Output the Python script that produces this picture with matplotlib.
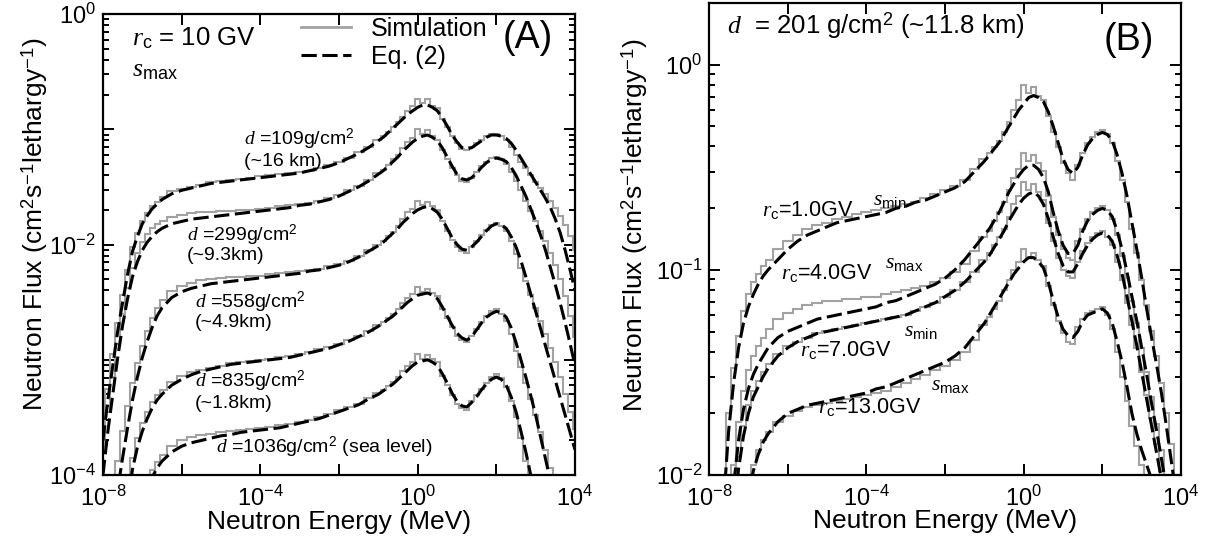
import numpy as np
import matplotlib.pyplot as plt
from matplotlib.lines import Line2D
from matplotlib.ticker import FixedLocator, FuncFormatter, LogLocator, NullLocator

plt.rcParams['font.family'] = ['Liberation Sans', 'DejaVu Sans']
plt.rcParams['mathtext.fontset'] = 'custom'
plt.rcParams['mathtext.rm'] = 'Liberation Sans'
plt.rcParams['mathtext.it'] = 'Liberation Serif:italic'
plt.rcParams['mathtext.sf'] = 'Liberation Sans'
plt.rcParams['lines.scale_dashes'] = False

# log10 of neutron energy (MeV): fine bins on the thermal rise and above 0.1 MeV
log_e = ([-8.0, -7.875, -7.75, -7.625, -7.5, -7.375, -7.25, -7.125, -7.0, -6.875,
          -6.75, -6.625, -6.5]
         + [-6.25, -6.0, -5.75, -5.5, -5.25, -5.0, -4.75, -4.5, -4.25, -4.0, -3.75,
            -3.5, -3.25, -3.0, -2.75, -2.5, -2.25, -2.0, -1.75, -1.5, -1.25, -1.0]
         + [-0.875, -0.75, -0.625, -0.5, -0.375, -0.25, -0.125, 0.0, 0.125, 0.25,
            0.375, 0.5, 0.625, 0.75, 0.875, 1.0, 1.125, 1.25, 1.375, 1.5,
            1.625, 1.75, 1.875, 2.0, 2.125, 2.25, 2.375, 2.5, 2.625, 2.75,
            2.875, 3.0, 3.125, 3.25, 3.375, 3.5, 3.625, 3.75, 3.875, 4.0])

# ---- panel A : rc = 10 GV, s_max, various atmospheric depths (log10 flux)
a_eq_109 = ([-3.70, -3.35, -3.05, -2.75, -2.50, -2.26, -2.06, -1.93, -1.82, -1.75, -1.69, -1.65, -1.61]
            + [-1.56, -1.53, -1.51, -1.49, -1.47, -1.46, -1.45, -1.44, -1.43, -1.42, -1.41,
               -1.40, -1.39, -1.38, -1.36, -1.34, -1.32, -1.29, -1.25, -1.21, -1.16, -1.10]
            + [-1.07, -1.03, -0.99, -0.95, -0.91, -0.87, -0.84, -0.81, -0.79, -0.79,
               -0.81, -0.84, -0.90, -0.97, -1.05, -1.11, -1.16, -1.17, -1.16, -1.13,
               -1.10, -1.07, -1.05, -1.05, -1.06, -1.08, -1.12, -1.18, -1.25, -1.32,
               -1.39, -1.46, -1.53, -1.60, -1.68, -1.78, -1.90, -2.05, -2.22, -2.40])
a_sim_109 = ([-3.55, -3.25, -2.95, -2.68, -2.44, -2.22, -2.02, -1.90, -1.80, -1.73, -1.67, -1.63, -1.59]
             + [-1.54, -1.52, -1.50, -1.48, -1.46, -1.45, -1.44, -1.43, -1.42, -1.41, -1.40,
                -1.39, -1.38, -1.37, -1.36, -1.34, -1.31, -1.28, -1.25, -1.20, -1.15, -1.09]
             + [-1.06, -1.02, -0.98, -0.94, -0.89, -0.84, -0.80, -0.74, -0.77, -0.74,
                -0.80, -0.82, -0.91, -0.98, -1.06, -1.12, -1.17, -1.18, -1.15, -1.12,
                -1.09, -1.06, -1.04, -1.04, -1.06, -1.09, -1.15, -1.22, -1.28, -1.34,
                -1.40, -1.46, -1.51, -1.56, -1.62, -1.68, -1.75, -1.83, -1.93, -2.05])

a_eq_299 = ([-4.00, -3.62, -3.30, -2.98, -2.70, -2.47, -2.28, -2.15, -2.05, -1.98, -1.93, -1.89, -1.86]
            + [-1.82, -1.80, -1.78, -1.77, -1.76, -1.75, -1.74, -1.73, -1.72, -1.71, -1.70,
               -1.69, -1.68, -1.66, -1.65, -1.63, -1.61, -1.58, -1.54, -1.50, -1.45, -1.39]
            + [-1.36, -1.32, -1.28, -1.24, -1.19, -1.15, -1.11, -1.08, -1.06, -1.05,
               -1.07, -1.10, -1.16, -1.24, -1.32, -1.39, -1.43, -1.44, -1.42, -1.38,
               -1.33, -1.29, -1.26, -1.25, -1.26, -1.28, -1.33, -1.40, -1.49, -1.58,
               -1.69, -1.80, -1.92, -2.05, -2.20, -2.35, -2.51, -2.68, -2.86, -3.05])
a_sim_299 = ([-3.80, -3.45, -3.15, -2.86, -2.60, -2.38, -2.20, -2.07, -1.98, -1.91, -1.86, -1.82, -1.80]
             + [-1.76, -1.74, -1.73, -1.72, -1.72, -1.71, -1.71, -1.70, -1.70, -1.69, -1.68,
                -1.67, -1.66, -1.65, -1.64, -1.62, -1.60, -1.57, -1.53, -1.49, -1.44, -1.38]
             + [-1.35, -1.31, -1.26, -1.22, -1.16, -1.11, -1.08, -1.00, -1.04, -1.01,
                -1.06, -1.09, -1.18, -1.26, -1.34, -1.40, -1.45, -1.46, -1.42, -1.37,
                -1.32, -1.28, -1.25, -1.24, -1.26, -1.30, -1.37, -1.45, -1.53, -1.62,
                -1.71, -1.80, -1.88, -1.97, -2.07, -2.18, -2.30, -2.45, -2.62, -2.80])

a_eq_558 = ([-5.00, -4.70, -4.40, -4.12, -3.85, -3.59, -3.35, -3.15, -2.98, -2.84, -2.72, -2.62, -2.55]
            + [-2.46, -2.41, -2.38, -2.36, -2.34, -2.33, -2.32, -2.31, -2.30, -2.29, -2.28,
               -2.27, -2.26, -2.25, -2.23, -2.22, -2.20, -2.18, -2.15, -2.11, -2.06, -2.01]
            + [-1.98, -1.94, -1.90, -1.86, -1.81, -1.77, -1.73, -1.70, -1.68, -1.67,
               -1.69, -1.72, -1.78, -1.86, -1.94, -2.00, -2.04, -2.05, -2.02, -1.98,
               -1.93, -1.88, -1.84, -1.82, -1.83, -1.86, -1.93, -2.02, -2.14, -2.28,
               -2.43, -2.58, -2.73, -2.88, -3.03, -3.18, -3.33, -3.48, -3.63, -3.78])
a_sim_558 = ([-4.75, -4.45, -4.15, -3.88, -3.62, -3.40, -3.20, -3.03, -2.88, -2.75, -2.64, -2.55, -2.48]
             + [-2.40, -2.36, -2.33, -2.31, -2.30, -2.29, -2.28, -2.28, -2.27, -2.27, -2.26,
                -2.25, -2.24, -2.23, -2.22, -2.21, -2.19, -2.17, -2.14, -2.10, -2.05, -2.00]
             + [-1.97, -1.93, -1.89, -1.84, -1.78, -1.72, -1.69, -1.62, -1.66, -1.63,
                -1.67, -1.70, -1.80, -1.88, -1.96, -2.02, -2.06, -2.07, -2.02, -1.97,
                -1.92, -1.87, -1.83, -1.81, -1.84, -1.88, -1.97, -2.08, -2.20, -2.32,
                -2.44, -2.55, -2.66, -2.78, -2.90, -3.02, -3.15, -3.30, -3.45, -3.60])

a_eq_835 = ([-6.00, -5.65, -5.30, -4.95, -4.60, -4.25, -3.95, -3.76, -3.62, -3.51, -3.42, -3.35, -3.30]
            + [-3.22, -3.17, -3.13, -3.10, -3.08, -3.06, -3.04, -3.03, -3.02, -3.01, -3.00,
               -2.99, -2.98, -2.96, -2.94, -2.92, -2.90, -2.87, -2.84, -2.80, -2.76, -2.71]
            + [-2.68, -2.65, -2.62, -2.58, -2.54, -2.50, -2.47, -2.44, -2.43, -2.42,
               -2.44, -2.47, -2.54, -2.62, -2.70, -2.77, -2.81, -2.83, -2.80, -2.74,
               -2.68, -2.63, -2.60, -2.58, -2.59, -2.63, -2.72, -2.85, -3.00, -3.15,
               -3.31, -3.48, -3.67, -3.86, -4.05, -4.25, -4.42, -4.60, -4.80, -5.00])
a_sim_835 = ([-5.50, -5.20, -4.90, -4.60, -4.30, -4.05, -3.85, -3.68, -3.55, -3.45, -3.37, -3.31, -3.26]
             + [-3.19, -3.14, -3.11, -3.09, -3.07, -3.05, -3.03, -3.02, -3.01, -3.00, -2.99,
                -2.98, -2.97, -2.95, -2.93, -2.91, -2.89, -2.86, -2.83, -2.79, -2.75, -2.70]
             + [-2.67, -2.64, -2.60, -2.56, -2.51, -2.46, -2.43, -2.37, -2.41, -2.39,
                -2.42, -2.45, -2.56, -2.64, -2.72, -2.79, -2.83, -2.85, -2.79, -2.73,
                -2.67, -2.62, -2.58, -2.56, -2.60, -2.66, -2.78, -2.92, -3.06, -3.20,
                -3.34, -3.48, -3.63, -3.78, -3.94, -4.10, -4.25, -4.40, -4.60, -4.80])

a_eq_1036 = ([-6.50, -6.20, -5.90, -5.55, -5.20, -4.88, -4.60, -4.40, -4.25, -4.12, -4.02, -3.94, -3.88]
             + [-3.80, -3.75, -3.72, -3.70, -3.68, -3.66, -3.65, -3.63, -3.62, -3.61, -3.60,
                -3.59, -3.57, -3.55, -3.53, -3.51, -3.48, -3.45, -3.42, -3.39, -3.34, -3.30]
             + [-3.27, -3.24, -3.21, -3.17, -3.13, -3.09, -3.05, -3.02, -3.01, -3.00,
                -3.02, -3.05, -3.12, -3.20, -3.29, -3.36, -3.40, -3.41, -3.37, -3.32,
                -3.26, -3.21, -3.17, -3.15, -3.17, -3.22, -3.32, -3.45, -3.62, -3.80,
                -4.00, -4.20, -4.40, -4.60, -4.80, -5.00, -5.20, -5.40, -5.60, -5.80])
a_sim_1036 = ([-6.00, -5.75, -5.50, -5.20, -4.90, -4.65, -4.45, -4.28, -4.15, -4.05, -3.96, -3.89, -3.83]
              + [-3.75, -3.70, -3.67, -3.65, -3.64, -3.63, -3.62, -3.61, -3.60, -3.59, -3.58,
                 -3.57, -3.56, -3.54, -3.52, -3.50, -3.47, -3.44, -3.41, -3.38, -3.33, -3.29]
              + [-3.26, -3.23, -3.19, -3.15, -3.10, -3.05, -3.02, -2.95, -2.99, -2.96,
                 -2.99, -3.02, -3.14, -3.22, -3.31, -3.38, -3.42, -3.44, -3.36, -3.31,
                 -3.25, -3.20, -3.15, -3.12, -3.16, -3.24, -3.36, -3.50, -3.68, -3.88,
                 -4.08, -4.30, -4.50, -4.70, -4.90, -5.10, -5.30, -5.50, -5.70, -5.90])

# ---- panel B : d = 201 g/cm2, various cut-off rigidities (log10 flux)
b_eq_1 = ([-3.40, -2.92, -2.50, -2.12, -1.78, -1.55, -1.38, -1.26, -1.18, -1.12, -1.07, -1.03, -1.00]
          + [-0.95, -0.90, -0.86, -0.83, -0.81, -0.79, -0.77, -0.76, -0.75, -0.74, -0.73,
             -0.72, -0.70, -0.69, -0.67, -0.66, -0.64, -0.62, -0.60, -0.57, -0.52, -0.47]
          + [-0.44, -0.41, -0.38, -0.34, -0.30, -0.26, -0.22, -0.19, -0.16, -0.15,
             -0.16, -0.18, -0.23, -0.30, -0.38, -0.46, -0.51, -0.53, -0.50, -0.44,
             -0.39, -0.36, -0.34, -0.33, -0.34, -0.37, -0.44, -0.53, -0.64, -0.77,
             -0.90, -1.04, -1.19, -1.33, -1.46, -1.60, -1.76, -1.93, -2.10, -2.30])
b_sim_1 = ([-3.20, -2.75, -2.38, -2.02, -1.70, -1.48, -1.32, -1.20, -1.12, -1.06, -1.02, -0.98, -0.95]
           + [-0.90, -0.86, -0.83, -0.80, -0.78, -0.77, -0.75, -0.74, -0.73, -0.72, -0.71,
              -0.70, -0.69, -0.68, -0.67, -0.65, -0.63, -0.61, -0.59, -0.56, -0.51, -0.46]
           + [-0.43, -0.40, -0.37, -0.33, -0.28, -0.22, -0.17, -0.10, -0.14, -0.11,
              -0.15, -0.17, -0.25, -0.33, -0.40, -0.48, -0.53, -0.56, -0.49, -0.43,
              -0.38, -0.35, -0.33, -0.32, -0.34, -0.38, -0.47, -0.56, -0.67, -0.80,
              -0.92, -1.05, -1.17, -1.30, -1.42, -1.55, -1.70, -1.85, -2.02, -2.20])

b_eq_4 = ([-4.20, -3.68, -3.20, -2.75, -2.35, -2.05, -1.83, -1.68, -1.58, -1.51, -1.46, -1.42, -1.38]
          + [-1.33, -1.30, -1.28, -1.26, -1.24, -1.23, -1.22, -1.21, -1.20, -1.19, -1.18,
             -1.16, -1.15, -1.13, -1.11, -1.09, -1.07, -1.04, -1.00, -0.95, -0.89, -0.83]
          + [-0.80, -0.76, -0.72, -0.67, -0.62, -0.58, -0.54, -0.51, -0.49, -0.49,
             -0.51, -0.55, -0.62, -0.72, -0.81, -0.88, -0.92, -0.92, -0.88, -0.81,
             -0.76, -0.73, -0.71, -0.70, -0.71, -0.74, -0.81, -0.90, -1.01, -1.13,
             -1.25, -1.38, -1.51, -1.65, -1.78, -1.92, -2.06, -2.20, -2.35, -2.50])
b_sim_4 = ([-4.00, -3.50, -3.05, -2.62, -2.24, -1.95, -1.74, -1.59, -1.49, -1.42, -1.37, -1.33, -1.29]
           + [-1.24, -1.21, -1.19, -1.17, -1.16, -1.15, -1.15, -1.14, -1.14, -1.13, -1.13,
              -1.12, -1.11, -1.10, -1.09, -1.08, -1.06, -1.04, -1.01, -0.97, -0.91, -0.84]
           + [-0.81, -0.76, -0.72, -0.67, -0.61, -0.55, -0.51, -0.43, -0.47, -0.44,
              -0.48, -0.52, -0.64, -0.74, -0.83, -0.90, -0.94, -0.95, -0.86, -0.80,
              -0.75, -0.72, -0.70, -0.69, -0.71, -0.75, -0.83, -0.93, -1.04, -1.15,
              -1.26, -1.38, -1.50, -1.62, -1.75, -1.88, -2.01, -2.15, -2.30, -2.45])

b_eq_7 = ([-4.50, -3.92, -3.40, -2.93, -2.50, -2.20, -1.97, -1.81, -1.70, -1.62, -1.57, -1.52, -1.48]
          + [-1.42, -1.38, -1.35, -1.33, -1.31, -1.30, -1.29, -1.28, -1.27, -1.26, -1.25,
             -1.24, -1.23, -1.22, -1.20, -1.18, -1.16, -1.13, -1.10, -1.06, -1.01, -0.96]
          + [-0.93, -0.89, -0.85, -0.81, -0.76, -0.72, -0.68, -0.65, -0.63, -0.62,
             -0.64, -0.68, -0.75, -0.84, -0.92, -0.98, -1.01, -1.01, -0.97, -0.92,
             -0.88, -0.85, -0.83, -0.82, -0.83, -0.86, -0.93, -1.02, -1.13, -1.25,
             -1.37, -1.50, -1.63, -1.76, -1.89, -2.02, -2.16, -2.30, -2.45, -2.60])
b_sim_7 = ([-4.30, -3.75, -3.25, -2.80, -2.40, -2.12, -1.91, -1.76, -1.66, -1.59, -1.54, -1.50, -1.46]
           + [-1.41, -1.37, -1.35, -1.33, -1.31, -1.30, -1.29, -1.28, -1.27, -1.26, -1.25,
              -1.24, -1.23, -1.22, -1.20, -1.18, -1.16, -1.13, -1.10, -1.06, -1.01, -0.95]
           + [-0.92, -0.88, -0.84, -0.80, -0.74, -0.68, -0.64, -0.57, -0.61, -0.58,
              -0.62, -0.66, -0.77, -0.86, -0.94, -1.00, -1.03, -1.04, -0.96, -0.91,
              -0.87, -0.84, -0.82, -0.81, -0.84, -0.88, -0.96, -1.05, -1.16, -1.27,
              -1.38, -1.50, -1.61, -1.72, -1.85, -1.98, -2.11, -2.25, -2.40, -2.55])

b_eq_13 = ([-5.00, -4.48, -4.00, -3.53, -3.10, -2.77, -2.50, -2.27, -2.10, -1.98, -1.90, -1.84, -1.80]
           + [-1.74, -1.70, -1.68, -1.66, -1.65, -1.64, -1.63, -1.62, -1.61, -1.60, -1.58,
              -1.57, -1.55, -1.53, -1.51, -1.49, -1.47, -1.45, -1.42, -1.38, -1.32, -1.26]
           + [-1.22, -1.18, -1.14, -1.10, -1.06, -1.02, -0.99, -0.96, -0.94, -0.94,
              -0.96, -0.99, -1.06, -1.15, -1.23, -1.29, -1.32, -1.33, -1.30, -1.25,
              -1.22, -1.21, -1.20, -1.19, -1.21, -1.26, -1.35, -1.45, -1.57, -1.70,
              -1.80, -1.88, -1.95, -2.02, -2.12, -2.25, -2.40, -2.55, -2.72, -2.90])
b_sim_13 = ([-4.80, -4.30, -3.85, -3.40, -3.00, -2.68, -2.42, -2.22, -2.06, -1.95, -1.88, -1.83, -1.79]
            + [-1.74, -1.71, -1.69, -1.67, -1.66, -1.65, -1.64, -1.63, -1.62, -1.61, -1.60,
               -1.59, -1.57, -1.55, -1.53, -1.51, -1.49, -1.47, -1.44, -1.40, -1.34, -1.27]
            + [-1.23, -1.19, -1.15, -1.10, -1.05, -1.00, -0.96, -0.90, -0.94, -0.92,
               -0.95, -0.98, -1.08, -1.17, -1.25, -1.31, -1.35, -1.36, -1.28, -1.24,
               -1.21, -1.20, -1.19, -1.18, -1.22, -1.29, -1.40, -1.52, -1.64, -1.76,
               -1.86, -1.95, -2.05, -2.15, -2.27, -2.40, -2.55, -2.70, -2.85, -3.00])

panel_a = [(a_eq_109, a_sim_109), (a_eq_299, a_sim_299), (a_eq_558, a_sim_558),
           (a_eq_835, a_sim_835), (a_eq_1036, a_sim_1036)]
panel_b = [(b_eq_1, b_sim_1), (b_eq_4, b_sim_4), (b_eq_7, b_sim_7),
           (b_eq_13, b_sim_13)]

g = np.array(log_e)
energy = 10.0 ** g
# histogram bin edges halfway between grid points
mid = (g[1:] + g[:-1]) / 2
edges = 10.0 ** np.concatenate(([g[0] - (g[1] - g[0]) / 2], mid,
                                [g[-1] + (g[-1] - g[-2]) / 2]))

SIM_COLOR = '#a2a2a2'
SIM_LW = 1.5
EQ_LW = 2.2
DASH = (11, 4)


def draw_spectra(ax, curves):
    for eq, sim in curves:
        assert len(eq) == len(g) and len(sim) == len(g)
        ax.stairs(10.0 ** np.array(sim), edges, baseline=None,
                  color=SIM_COLOR, lw=SIM_LW, zorder=2)
        ax.plot(energy, 10.0 ** np.array(eq), color='black', lw=EQ_LW,
                dashes=DASH, zorder=3)


def exp_label(shown):
    def fmt(v, pos):
        e = int(round(np.log10(v)))
        return r'$\mathdefault{10^{%d}}$' % e if e in shown else ''
    return FuncFormatter(fmt)


def style_axes(ax, ylim, ylabel_exps):
    ax.set_xscale('log')
    ax.set_yscale('log')
    ax.set_xlim(1e-8, 1e4)
    ax.set_ylim(*ylim)
    ax.xaxis.set_major_locator(FixedLocator(10.0 ** np.arange(-8, 5, 2)))
    ax.xaxis.set_minor_locator(NullLocator())
    ax.xaxis.set_major_formatter(exp_label((-8, -4, 0, 4)))
    ax.yaxis.set_major_locator(LogLocator(base=10, numticks=20))
    ax.yaxis.set_minor_locator(LogLocator(base=10, subs=np.arange(2, 10), numticks=50))
    ax.yaxis.set_major_formatter(exp_label(ylabel_exps))
    ax.tick_params(which='both', direction='in', top=True, right=True,
                   width=1.4, labelsize=17, pad=5)
    ax.tick_params(axis='x', pad=8)
    ax.tick_params(which='major', length=8)
    ax.tick_params(which='minor', length=4)
    for sp in ax.spines.values():
        sp.set_linewidth(1.6)
    ax.set_xlabel('Neutron Energy (MeV)', fontsize=19, labelpad=0)
    ax.set_ylabel(r'Neutron Flux (cm$^2$s$^{-1}$lethargy$^{-1}$)', fontsize=19)


fig = plt.figure(figsize=(12.1, 5.44), dpi=100)
ax_a = fig.add_axes([0.0851, 0.1268, 0.3901, 0.8475])
ax_b = fig.add_axes([0.5860, 0.1268, 0.3901, 0.8677])

# ---- (A)
draw_spectra(ax_a, panel_a)
style_axes(ax_a, (1e-4, 1.0), (0, -2, -4))
ax_a.xaxis.set_label_coords(0.5, -0.075)
ax_a.yaxis.set_label_coords(-0.112, 0.543)

ax_a.text(0.061, 0.948, r'$r_{\rm c}$ = 10 GV', transform=ax_a.transAxes,
          fontsize=18.5, va='center')
ax_a.text(0.061, 0.879, r'$s_{\rm max}$', transform=ax_a.transAxes,
          fontsize=18.5, va='center')
ax_a.text(0.90, 0.948, '(A)', transform=ax_a.transAxes, fontsize=27,
          ha='center', va='center')
ax_a.legend(handles=[Line2D([], [], color=SIM_COLOR, lw=SIM_LW + 0.5),
                     Line2D([], [], color='black', lw=EQ_LW, dashes=DASH)],
            labels=['Simulation', 'Eq. (2)'], loc='upper left',
            bbox_to_anchor=(0.398, 1.015), frameon=False, fontsize=18,
            handlelength=2.0, handletextpad=0.8, labelspacing=0.15,
            borderaxespad=0)

depth_labels = [
    (0.299, 0.727, r'$d$ =109g/cm$^2$'), (0.299, 0.680, '(~16 km)'),
    (0.178, 0.520, r'$d$ =299g/cm$^2$'), (0.178, 0.476, '(~9.3km)'),
    (0.195, 0.375, r'$d$ =558g/cm$^2$'), (0.195, 0.331, '(~4.9km)'),
    (0.195, 0.204, r'$d$ =835g/cm$^2$'), (0.195, 0.156, '(~1.8km)'),
    (0.239, 0.059, r'$d$ =1036g/cm$^2$ (sea level)'),
]
for x, y, s in depth_labels:
    ax_a.text(x, y, s, transform=ax_a.transAxes, fontsize=14, va='center')

# ---- (B)
draw_spectra(ax_b, panel_b)
style_axes(ax_b, (1e-2, 2.0), (0, -1, -2))
ax_b.xaxis.set_label_coords(0.5, -0.073)
ax_b.yaxis.set_label_coords(-0.125, 0.53)

ax_b.text(0.038, 0.953, r'$d$  = 201 g/cm$^2$ (~11.8 km)', transform=ax_b.transAxes,
          fontsize=18.5, va='center')
ax_b.text(0.89, 0.922, '(B)', transform=ax_b.transAxes, fontsize=27,
          ha='center', va='center')

rc_labels = [
    (0.112, 0.561, r'$r_{\rm c}$=1.0GV'), (0.347, 0.583, r'$s_{\rm min}$'),
    (0.153, 0.428, r'$r_{\rm c}$=4.0GV'), (0.373, 0.451, r'$s_{\rm max}$'),
    (0.413, 0.307, r'$s_{\rm min}$'), (0.193, 0.265, r'$r_{\rm c}$=7.0GV'),
    (0.470, 0.191, r'$s_{\rm max}$'), (0.231, 0.144, r'$r_{\rm c}$=13.0GV'),
]
for x, y, s in rc_labels:
    ax_b.text(x, y, s, transform=ax_b.transAxes, fontsize=15.5, va='center')

fig.savefig('out.png', dpi=100)
